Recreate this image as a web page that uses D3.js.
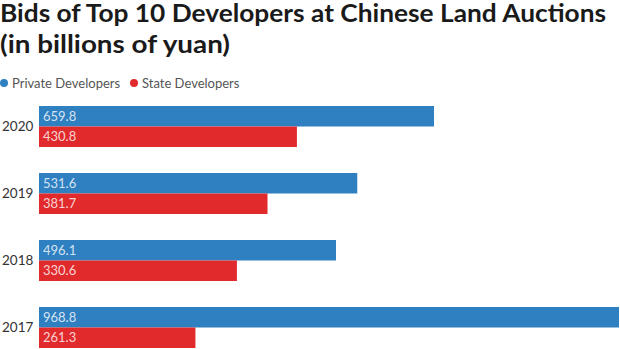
<!DOCTYPE html>
<html lang="en">
<head>
<meta charset="utf-8">
<title>Bids of Top 10 Developers at Chinese Land Auctions</title>
<script src="https://cdn.jsdelivr.net/npm/d3@7"></script>
<style>
	body { margin: 0; background: #fff; }
	text { font-family: Lato, "Noto Sans", sans-serif; }
</style>
</head>
<body>
<script>
	// Chart data
	var years = ["2020", "2019", "2018", "2017"];
	var seriesNames = ["Private Developers", "State Developers"];
	var privateBids = [659.8, 531.6, 496.1, 968.8];
	var stateBids = [430.8, 381.7, 330.6, 261.3];
	var colors = ["#2f80c1", "#e02a2b"];

	var width = 620, height = 349;

	var svg = d3.select("body")
		.append("svg")
		.attr("width", width)
		.attr("height", height);

	// Title (two lines, squeezed to the reference widths)
	var titleLines = ["Bids of Top 10 Developers at Chinese Land Auctions", "(in billions of yuan)"];
	var titleY = [22, 53];
	var titleW = [606, 230];
	svg.selectAll(".title")
		.data(titleLines)
		.enter()
		.append("text")
		.attr("class", "title")
		.attr("x", 0)
		.attr("y", function(d, i) { return titleY[i]; })
		.attr("font-size", 24)
		.attr("font-weight", 700)
		.attr("fill", "#1a1a1a")
		.attr("textLength", function(d, i) { return titleW[i]; })
		.attr("lengthAdjust", "spacingAndGlyphs")
		.text(function(d) { return d; });

	// Legend
	var legendX = [4, 134];
	var legend = svg.selectAll(".legend")
		.data(seriesNames)
		.enter()
		.append("g")
		.attr("class", "legend")
		.attr("transform", function(d, i) { return "translate(" + legendX[i] + ",83)"; });
	legend.append("circle")
		.attr("r", 4)
		.attr("fill", function(d, i) { return colors[i]; });
	legend.append("text")
		.attr("x", 8)
		.attr("y", 0)
		.attr("dy", "0.36em")
		.attr("font-size", 13)
		.attr("fill", "#555")
		.text(function(d) { return d; });

	// Scales
	var yScale = d3.scaleBand()
		.domain(years)
		.range([106, 348])
		.paddingInner(0.388)
		.paddingOuter(0);

	var inner = d3.scaleBand()
		.domain([0, 1])
		.range([0, yScale.bandwidth()]);

	var xScale = d3.scaleLinear()
		.domain([0, d3.max(privateBids)])
		.range([39, 619]);

	// Year axis (labels only)
	var yAxis = d3.axisLeft(yScale).tickSize(0).tickPadding(0);
	var axisG = svg.append("g")
		.attr("transform", "translate(2,0)")
		.call(yAxis);
	axisG.select(".domain").remove();
	axisG.selectAll("text")
		.attr("text-anchor", "start")
		.attr("font-size", 13.5)
		.attr("fill", "#333")
		.style("font-family", "Lato, 'Noto Sans', sans-serif");

	// Bars
	var rows = years.map(function(y, i) {
		return { year: y, values: [privateBids[i], stateBids[i]] };
	});

	var groups = svg.selectAll(".row")
		.data(rows)
		.enter()
		.append("g")
		.attr("class", "row")
		.attr("transform", function(d) { return "translate(0," + yScale(d.year) + ")"; });

	groups.selectAll("rect")
		.data(function(d) { return d.values; })
		.enter()
		.append("rect")
		.attr("x", xScale(0))
		.attr("y", function(d, i) { return inner(i); })
		.attr("width", function(d) { return xScale(d) - xScale(0); })
		.attr("height", inner.bandwidth())
		.attr("fill", function(d, i) { return colors[i]; });

	groups.selectAll(".val")
		.data(function(d) { return d.values; })
		.enter()
		.append("text")
		.attr("class", "val")
		.attr("x", xScale(0) + 4)
		.attr("y", function(d, i) { return inner(i) + inner.bandwidth() / 2; })
		.attr("dy", "0.36em")
		.attr("font-size", 13)
		.attr("fill", "#fff")
		.attr("fill-opacity", 0.8)
		.text(function(d) { return d3.format(".1f")(d); });
</script>
</body>
</html>
